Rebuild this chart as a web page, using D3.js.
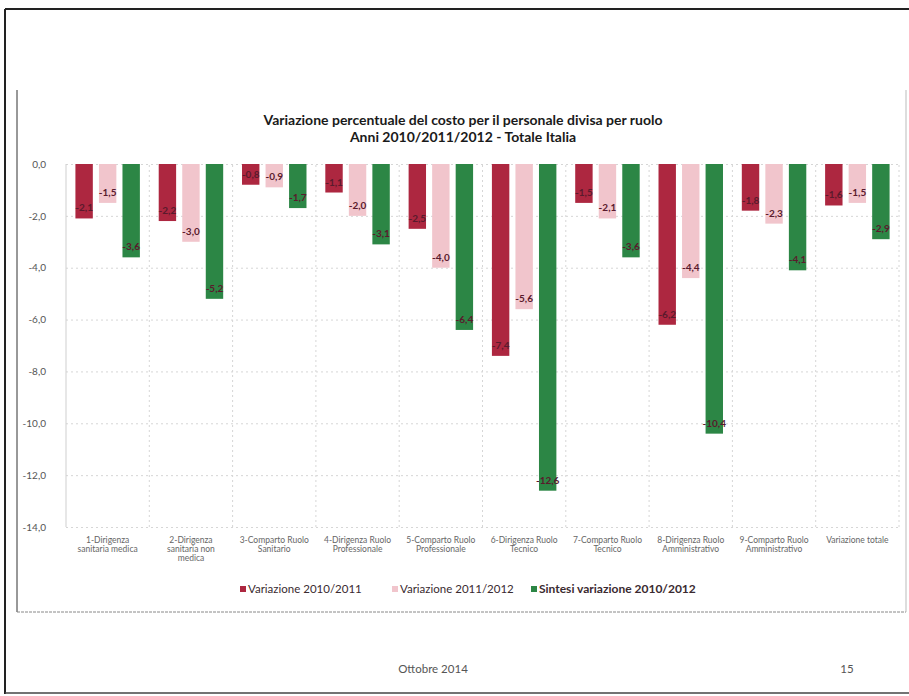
<!DOCTYPE html>
<html>
<head>
<meta charset="utf-8">
<script src="https://cdn.jsdelivr.net/npm/d3@7"></script>
<style>
  html, body { margin: 0; padding: 0; background: #fff; }
  svg { display: block; }
  text { font-family: Lato, "Open Sans", "Liberation Sans", sans-serif; }
</style>
</head>
<body>
<svg id="chart" width="909" height="696"></svg>
<script>
// ---- DATA ----
const categories = [
  "1-Dirigenza sanitaria medica",
  "2-Dirigenza sanitaria non medica",
  "3-Comparto Ruolo Sanitario",
  "4-Dirigenza Ruolo Professionale",
  "5-Comparto Ruolo Professionale",
  "6-Dirigenza Ruolo Tecnico",
  "7-Comparto Ruolo Tecnico",
  "8-Dirigenza Ruolo Amministrativo",
  "9-Comparto Ruolo Amministrativo",
  "Variazione totale"
];
const categoryLines = [
  ["1-Dirigenza", "sanitaria medica"],
  ["2-Dirigenza", "sanitaria non", "medica"],
  ["3-Comparto Ruolo", "Sanitario"],
  ["4-Dirigenza Ruolo", "Professionale"],
  ["5-Comparto Ruolo", "Professionale"],
  ["6-Dirigenza Ruolo", "Tecnico"],
  ["7-Comparto Ruolo", "Tecnico"],
  ["8-Dirigenza Ruolo", "Amministrativo"],
  ["9-Comparto Ruolo", "Amministrativo"],
  ["Variazione totale"]
];
const seriesNames = ["Variazione 2010/2011", "Variazione 2011/2012", "Sintesi variazione 2010/2012"];
const variazione2010_2011 = [-2.1, -2.2, -0.8, -1.1, -2.5, -7.4, -1.5, -6.2, -1.8, -1.6];
const variazione2011_2012 = [-1.5, -3.0, -0.9, -2.0, -4.0, -5.6, -2.1, -4.4, -2.3, -1.5];
const sintesi2010_2012    = [-3.6, -5.2, -1.7, -3.1, -6.4, -12.6, -3.6, -10.4, -4.1, -2.9];
const yTicks = [0, -2, -4, -6, -8, -10, -12, -14];
const titleLines = ["Variazione percentuale del costo per il personale divisa per ruolo",
                    "Anni 2010/2011/2012 - Totale Italia"];
const footerText = "Ottobre 2014";
const pageNumber = "15";

// ---- STYLE ----
const colors = ["#ad2740", "#f1c5cc", "#2c8645"];
const labelColor = "#5a1a2c";

const svg = d3.select("#chart");
const values = [variazione2010_2011, variazione2011_2012, sintesi2010_2012];
const rows = categories.map((c, i) => ({cat: c, vals: seriesNames.map((s, k) => ({s, k, v: values[k][i]}))}));

const plot = {left: 66, right: 899, top: 164, bottom: 527};

const loc = d3.formatLocale({decimal: ",", thousands: ".", grouping: [3], currency: ["", "€"], minus: "-"});
const fmt = loc.format(".1f");

const x0 = d3.scaleBand().domain(categories).range([plot.left, plot.right]).padding(0);
const x1 = d3.scaleBand().domain(seriesNames).range([0, x0.bandwidth()]).paddingInner(0.26).paddingOuter(0.4);
const y = d3.scaleLinear().domain([0, -14]).range([plot.top, plot.bottom]);

// ---- FRAMES ----
const frame = svg.append("g");
frame.append("line").attr("x1", 5).attr("x2", 909).attr("y1", 9).attr("y2", 9).attr("stroke", "#222").attr("stroke-width", 2);
frame.append("line").attr("x1", 5).attr("x2", 5).attr("y1", 9).attr("y2", 694).attr("stroke", "#222").attr("stroke-width", 2);
frame.append("line").attr("x1", 5).attr("x2", 909).attr("y1", 693).attr("y2", 693).attr("stroke", "#444").attr("stroke-width", 1.5);
// chart area frame
frame.append("line").attr("x1", 17).attr("x2", 17).attr("y1", 90).attr("y2", 612).attr("stroke", "#333").attr("stroke-width", 1);
frame.append("line").attr("x1", 17).attr("x2", 906).attr("y1", 612).attr("y2", 612).attr("stroke", "#888").attr("stroke-width", 1).attr("stroke-dasharray", "3,1");
frame.append("line").attr("x1", 906).attr("x2", 906).attr("y1", 90).attr("y2", 612).attr("stroke", "#bbb").attr("stroke-width", 1);

// ---- GRID ----
const gridY = svg.append("g").attr("transform", `translate(${plot.left},0)`)
  .call(d3.axisLeft(y).tickValues(yTicks).tickSize(-(plot.right - plot.left)).tickFormat(""));
gridY.select(".domain").remove();
gridY.selectAll("line").attr("stroke", "#d6d6d6").attr("stroke-dasharray", "2,3");

const gridX = svg.append("g").attr("transform", `translate(0,${plot.bottom})`)
  .call(d3.axisBottom(x0).tickSize(-(plot.bottom - plot.top)).tickFormat(""));
gridX.select(".domain").remove();
gridX.selectAll(".tick").attr("transform", d => `translate(${x0(d) + x0.bandwidth()},0)`);
gridX.selectAll("line").attr("stroke", "#d6d6d6").attr("stroke-dasharray", "2,3");

// y axis line
svg.append("line").attr("x1", plot.left).attr("x2", plot.left).attr("y1", plot.top).attr("y2", plot.bottom)
  .attr("stroke", "#cfcfcf");

// y tick labels
const yAxis = svg.append("g").attr("transform", `translate(${plot.left - 17},0)`)
  .call(d3.axisLeft(y).tickValues(yTicks).tickSize(0).tickFormat(fmt));
yAxis.select(".domain").remove();
yAxis.selectAll("text").attr("fill", "#555").attr("font-size", 10).attr("dx", 0);

// ---- BARS ----
const groups = svg.append("g").selectAll("g").data(rows).join("g")
  .attr("transform", d => `translate(${x0(d.cat)},0)`);
groups.selectAll("rect").data(d => d.vals).join("rect")
  .attr("x", d => x1(d.s))
  .attr("y", d => y(0))
  .attr("width", x1.bandwidth())
  .attr("height", d => y(d.v) - y(0))
  .attr("fill", d => colors[d.k]);
groups.selectAll("text.lbl").data(d => d.vals).join("text")
  .attr("class", "lbl")
  .attr("x", d => x1(d.s) + x1.bandwidth() / 2)
  .attr("y", d => y(d.v) - 7)
  .attr("text-anchor", "middle")
  .attr("font-size", 10)
  .attr("font-weight", "bold")
  .attr("fill", labelColor)
  .text(d => fmt(d.v));

// ---- CATEGORY LABELS ----
const catG = svg.append("g");
categories.forEach((c, i) => {
  const t = catG.append("text")
    .attr("x", x0(c) + x0.bandwidth() / 2)
    .attr("y", 543)
    .attr("text-anchor", "middle")
    .attr("font-size", 8.5)
    .attr("fill", "#666");
  categoryLines[i].forEach((ln, j) => {
    t.append("tspan").attr("x", x0(c) + x0.bandwidth() / 2).attr("dy", j === 0 ? 0 : 9).text(ln);
  });
});

// ---- TITLE ----
svg.append("g").selectAll("text").data(titleLines).join("text")
  .attr("x", 463)
  .attr("y", (d, i) => 125 + i * 17)
  .attr("text-anchor", "middle")
  .attr("font-size", 14)
  .attr("font-weight", "bold")
  .attr("fill", "#1a1a1a")
  .text(d => d);

// ---- LEGEND ----
const legendX = [240, 392, 531];
const leg = svg.append("g").selectAll("g").data(seriesNames).join("g")
  .attr("transform", (d, i) => `translate(${legendX[i]},589)`);
leg.append("rect").attr("x", 0).attr("y", -3).attr("width", 6).attr("height", 6)
  .attr("fill", (d, i) => colors[i]);
leg.append("text").attr("x", 8).attr("y", 4)
  .attr("font-size", (d, i) => i === 2 ? 12 : 11.5)
  .attr("font-weight", (d, i) => i === 2 ? "bold" : "normal")
  .attr("fill", "#3a2a30")
  .text(d => d);

// ---- FOOTER ----
svg.append("text").attr("x", 433).attr("y", 673).attr("text-anchor", "middle")
  .attr("font-size", 11.5).attr("fill", "#555").text(footerText);
svg.append("text").attr("x", 847).attr("y", 673).attr("text-anchor", "middle")
  .attr("font-size", 11.5).attr("fill", "#555").text(pageNumber);
</script>
</body>
</html>
